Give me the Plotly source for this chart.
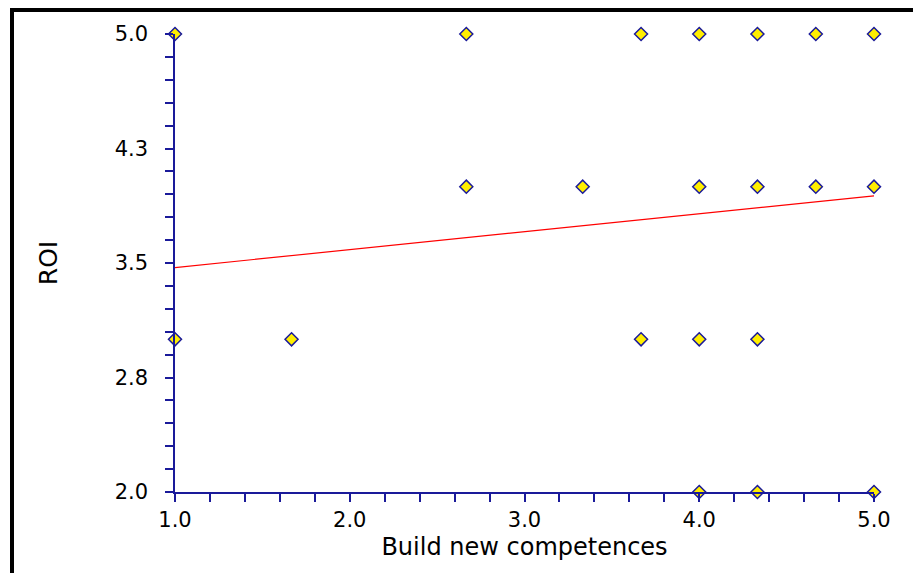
import plotly.graph_objects as go

# Scatter data: Build new competences (x) vs ROI (y)
comp_x = [1.0, 2.667, 3.667, 4.0, 4.333, 4.667, 5.0,
          2.667, 3.333, 4.0, 4.333, 4.667, 5.0,
          1.0, 1.667, 3.667, 4.0, 4.333,
          4.0, 4.333, 5.0]
roi_y = [5.0, 5.0, 5.0, 5.0, 5.0, 5.0, 5.0,
         4.0, 4.0, 4.0, 4.0, 4.0, 4.0,
         3.0, 3.0, 3.0, 3.0, 3.0,
         2.0, 2.0, 2.0]

# Fitted regression line end points
fit_x = [1.0, 5.0]
fit_y = [3.47, 3.94]

x_tick_vals = [1.0, 2.0, 3.0, 4.0, 5.0]
x_tick_text = ["1.0", "2.0", "3.0", "4.0", "5.0"]
y_tick_vals = [2.0, 2.75, 3.5, 4.25, 5.0]
y_tick_text = ["2.0", "2.8", "3.5", "4.3", "5.0"]

OFF = 8  # default body margin of the html page
W, H = 913, 565
L, R, T, B = 175, 874, 34, 492  # plot area in page pixels
NAVY = "#1a1a9a"
FONT = "DejaVu Sans, Verdana, sans-serif"

fig = go.Figure()
fig.add_trace(go.Scatter(
    x=fit_x, y=fit_y, mode="lines",
    line=dict(color="#ff0000", width=1.2),
    hoverinfo="skip", showlegend=False, cliponaxis=False))
fig.add_trace(go.Scatter(
    x=comp_x, y=roi_y, mode="markers",
    marker=dict(symbol="diamond", size=10, color="#ffee00",
                line=dict(color=NAVY, width=1.5)),
    showlegend=False, cliponaxis=False))

def px2paper_x(px):
    return (px - L) / (R - L)

def px2paper_y(py):
    return (B - py) / (B - T)

fig.update_layout(
    width=W, height=H,
    margin=dict(l=L - OFF, r=W - (R - OFF), t=T - OFF, b=H - (B - OFF), pad=0),
    paper_bgcolor="white", plot_bgcolor="white",
    font=dict(family=FONT, color="black", size=21),
    xaxis=dict(
        range=[1.0, 5.0], showgrid=False, zeroline=False,
        showline=True, linecolor=NAVY, linewidth=1.5,
        ticks="outside", ticklen=8, tickcolor=NAVY, tickwidth=1.5,
        tickmode="array", tickvals=x_tick_vals, ticktext=x_tick_text,
        tickfont=dict(size=21, family=FONT),
        minor=dict(ticks="outside", ticklen=8, tickcolor=NAVY, tickwidth=1.5,
                   dtick=0.2, tick0=1.0, showgrid=False),
        title=dict(text="Build new competences", font=dict(size=24, family=FONT), standoff=7),
    ),
    yaxis=dict(
        range=[2.0, 5.0], showgrid=False, zeroline=False,
        showline=True, linecolor=NAVY, linewidth=1.5,
        ticks="outside", ticklen=8, tickcolor=NAVY, tickwidth=1.5,
        ticklabelstandoff=13,
        tickmode="array", tickvals=y_tick_vals, ticktext=y_tick_text,
        tickfont=dict(size=21, family=FONT),
        minor=dict(ticks="outside", ticklen=8, tickcolor=NAVY, tickwidth=1.5,
                   dtick=0.15, tick0=2.0, showgrid=False),
        title=dict(text="ROI", font=dict(size=25, family=FONT), standoff=50),
    ),
    shapes=[
        dict(type="line", xref="paper", yref="paper",
             x0=px2paper_x(10), x1=px2paper_x(930),
             y0=px2paper_y(10), y1=px2paper_y(10),
             line=dict(color="black", width=4)),
        dict(type="line", xref="paper", yref="paper",
             x0=px2paper_x(12), x1=px2paper_x(12),
             y0=px2paper_y(8), y1=px2paper_y(590),
             line=dict(color="black", width=4)),
    ],
)

fig.write_html("out.html")
